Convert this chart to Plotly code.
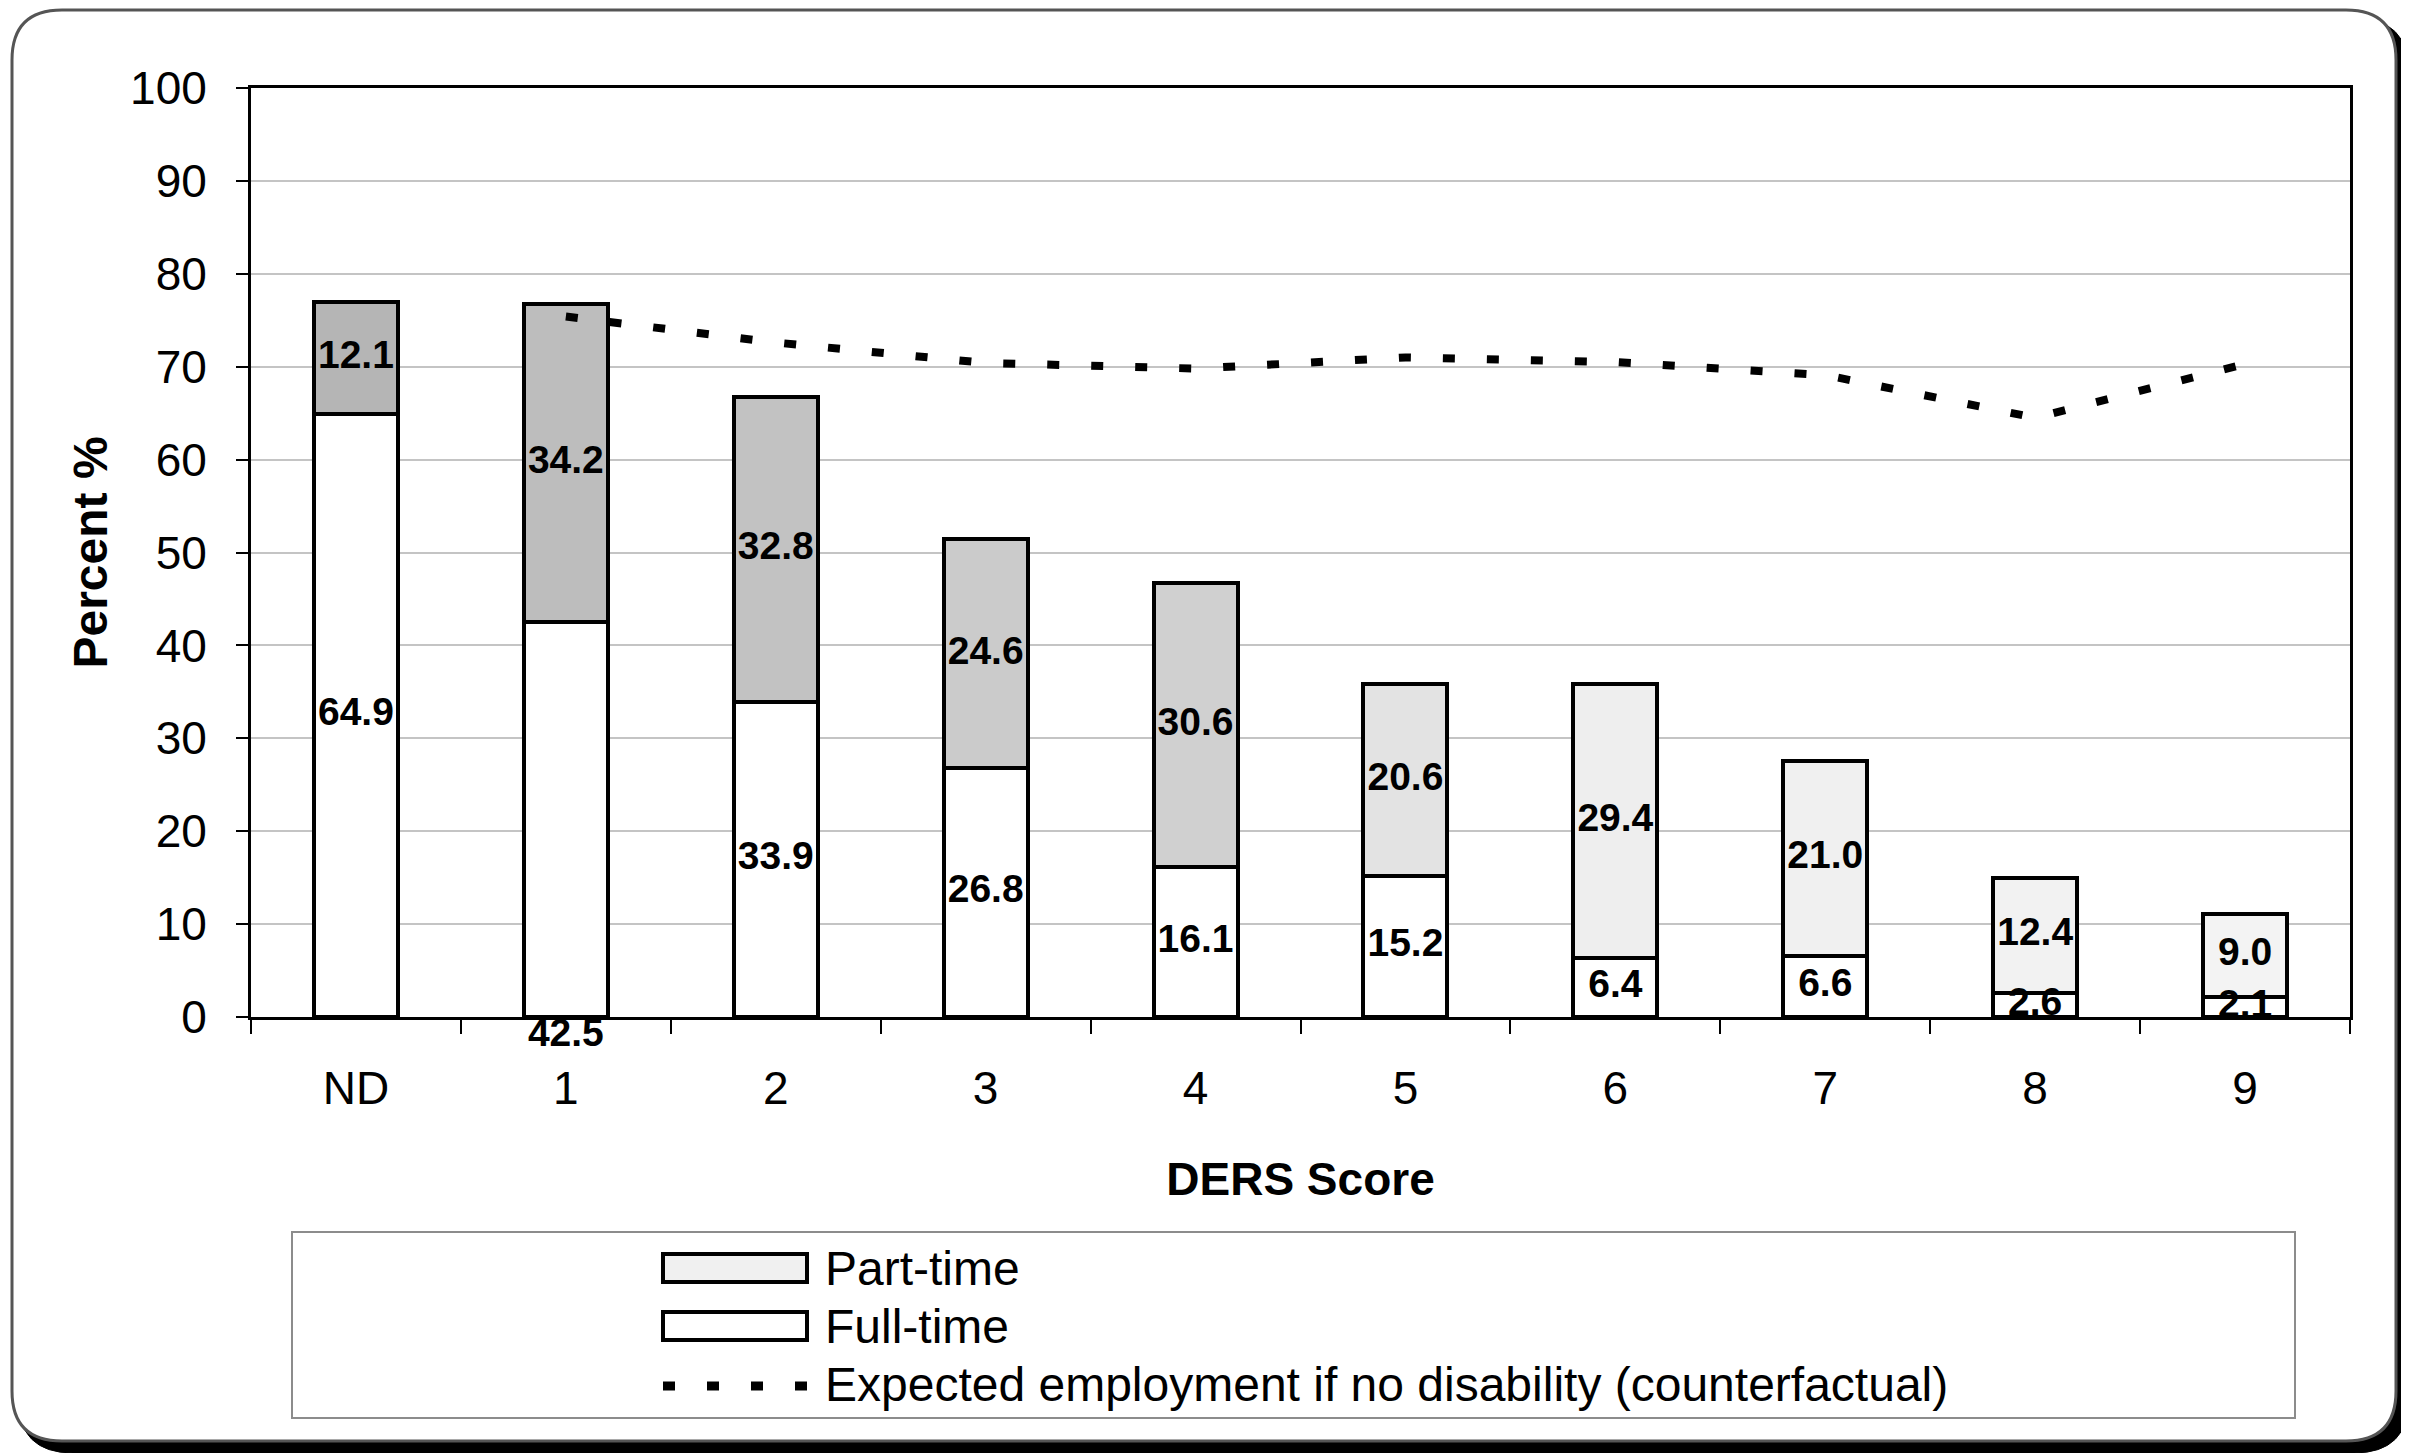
import plotly.graph_objects as go

# ---- data ----
categories = ["ND", "1", "2", "3", "4", "5", "6", "7", "8", "9"]
full_time = [64.9, 42.5, 33.9, 26.8, 16.1, 15.2, 6.4, 6.6, 2.6, 2.1]
part_time = [12.1, 34.2, 32.8, 24.6, 30.6, 20.6, 29.4, 21.0, 12.4, 9.0]
cf_categories = ["1", "2", "3", "4", "5", "6", "7", "8", "9"]
counterfactual = [75.4, 72.6, 70.4, 69.8, 71.0, 70.5, 69.1, 64.5, 70.3]
legend_labels = ["Part-time", "Full-time",
                 "Expected employment if no disability (counterfactual)"]

# ---- style / geometry (screen pixels; page body has an 8px margin) ----
OFF = 8
W, H = 2409 - OFF, 1453 - OFF
L, R, T, B = 251, 2350, 88, 1017  # plot area, screen px
FONT = "Liberation Sans, Arial, sans-serif"
pt_colors = ["#b5b5b5", "#bdbdbd", "#c2c2c2", "#cbcbcb", "#d0d0d0",
             "#e3e3e3", "#eeeeee", "#f0f0f0", "#f2f2f2", "#f3f3f3"]
ft_label_mode = ["mid", "base", "mid", "mid", "mid", "mid", "mid", "mid", "mid", "mid"]


def px(xs):
    return (xs - L) / (R - L)


def py(ys):
    return (B - ys) / (B - T)


def rounded(x0, y0, x1, y1, r):
    pts = [
        f"M {px(x0 + r)},{py(y0)}",
        f"L {px(x1 - r)},{py(y0)}",
        f"Q {px(x1)},{py(y0)} {px(x1)},{py(y0 + r)}",
        f"L {px(x1)},{py(y1 - r)}",
        f"Q {px(x1)},{py(y1)} {px(x1 - r)},{py(y1)}",
        f"L {px(x0 + r)},{py(y1)}",
        f"Q {px(x0)},{py(y1)} {px(x0)},{py(y1 - r)}",
        f"L {px(x0)},{py(y0 + r)}",
        f"Q {px(x0)},{py(y0)} {px(x0 + r)},{py(y0)}",
        "Z",
    ]
    return " ".join(pts)


fig = go.Figure()

fig.add_trace(go.Bar(
    x=categories, y=full_time, name=legend_labels[1],
    marker=dict(color="white", line=dict(color="black", width=4)),
    width=0.4, showlegend=False,
))
fig.add_trace(go.Bar(
    x=categories, y=part_time, name=legend_labels[0],
    marker=dict(color=pt_colors, line=dict(color="black", width=4)),
    width=0.4, showlegend=False,
))
fig.add_trace(go.Scatter(
    x=cf_categories, y=counterfactual, mode="lines",
    name=legend_labels[2],
    line=dict(color="black", width=8, dash="12px,32px"),
    showlegend=False,
))

# data labels
ft_y = [v / 2 if m == "mid" else 0 for v, m in zip(full_time, ft_label_mode)]
ft_pos = ["middle center" if m == "mid" else "bottom center" for m in ft_label_mode]
pt_y = [f + p / 2 for f, p in zip(full_time, part_time)]
fig.add_trace(go.Scatter(
    x=categories + categories,
    y=ft_y + pt_y,
    text=[f"{v:.1f}" for v in full_time] + [f"{v:.1f}" for v in part_time],
    textposition=ft_pos + ["middle center"] * len(part_time),
    mode="text", showlegend=False, cliponaxis=False,
    textfont=dict(family=FONT, size=39, color="black", weight="bold"),
    hoverinfo="skip",
))

shapes = [
    dict(type="path", xref="paper", yref="paper", layer="below",
         path=rounded(18, 18, 2409, 1453, 55), fillcolor="black",
         line=dict(color="black", width=1)),
    dict(type="path", xref="paper", yref="paper", layer="below",
         path=rounded(12, 10, 2396, 1441, 50), fillcolor="white",
         line=dict(color="#555555", width=3)),
    dict(type="rect", xref="paper", yref="paper", layer="below",
         x0=px(292), x1=px(2295), y0=py(1232), y1=py(1418),
         fillcolor="white", line=dict(color="#8c8c8c", width=2)),
]

# custom legend (wide swatches like the original)
rows = [1268, 1326, 1384]
sw_x0, sw_x1, sw_h = 663, 807, 28
swatch_fill = ["#f0f0f0", "white"]
for i in range(2):
    shapes.append(dict(type="rect", xref="paper", yref="paper",
                       x0=px(sw_x0), x1=px(sw_x1),
                       y0=py(rows[i] - sw_h / 2), y1=py(rows[i] + sw_h / 2),
                       fillcolor=swatch_fill[i], line=dict(color="black", width=4)))
shapes.append(dict(type="line", xref="paper", yref="paper",
                   x0=px(sw_x0), x1=px(sw_x1 + 2), y0=py(rows[2] + 2), y1=py(rows[2] + 2),
                   line=dict(color="black", width=9, dash="12px,32px")))

annotations = [
    dict(xref="paper", yref="paper", x=px(823), y=py(r), xanchor="left",
         yanchor="middle", text=t, showarrow=False,
         font=dict(family=FONT, size=48, color="black"))
    for r, t in zip(rows, legend_labels)
]

fig.update_layout(
    width=W, height=H,
    margin=dict(l=L - OFF, r=W - (R - OFF), t=T - OFF, b=H - (B - OFF), pad=0),
    paper_bgcolor="white", plot_bgcolor="rgba(0,0,0,0)",
    barmode="stack",
    font=dict(family=FONT, size=45, color="black"),
    shapes=shapes,
    annotations=annotations,
    showlegend=False,
    xaxis=dict(
        type="category", range=[-0.5, 9.5],
        showline=True, linecolor="black", linewidth=3, mirror=True,
        ticks="outside", tickson="boundaries", ticklen=14, tickwidth=2,
        tickcolor="black", ticklabelstandoff=29,
        showgrid=False, zeroline=False,
        title=dict(text="<b>DERS Score</b>", font=dict(size=46), standoff=50),
        tickfont=dict(size=46),
        fixedrange=True,
    ),
    yaxis=dict(
        range=[0, 100], dtick=10, tick0=0,
        showline=True, linecolor="black", linewidth=3, mirror=True,
        ticks="outside", ticklen=12, tickwidth=2, tickcolor="black",
        ticklabelstandoff=20,
        showgrid=True, gridcolor="#c4c4c4", gridwidth=2,
        zeroline=False,
        title=dict(text="<b>Percent %</b>", font=dict(size=48), standoff=8),
        tickfont=dict(size=46),
        fixedrange=True,
    ),
)

fig.write_html("out.html")
